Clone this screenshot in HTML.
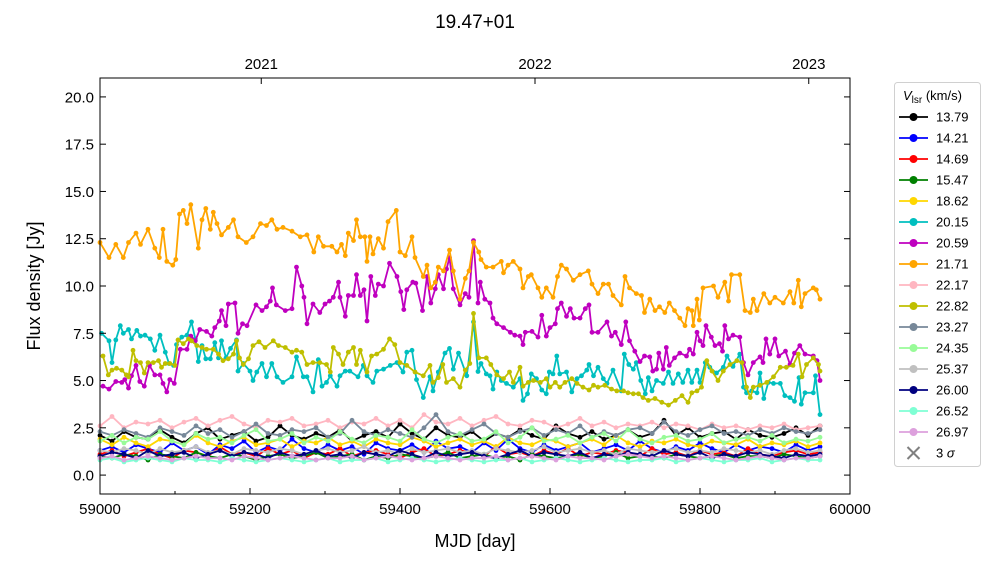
<!DOCTYPE html>
<html><head><meta charset="utf-8"><style>
html,body{margin:0;padding:0;background:#fff;}
svg{display:block;font-family:"Liberation Sans","DejaVu Sans",sans-serif;}
</style></head><body>
<svg id="chart" width="1000" height="562" viewBox="0 0 1000 562" xmlns="http://www.w3.org/2000/svg">
<text x="475" y="28" font-size="19" text-anchor="middle">19.47+01</text>
<g id="series"></g>
<rect x="100" y="78" width="750" height="416" fill="none" stroke="#000" stroke-width="1"/>
<g id="axes"></g>
<text x="475" y="547" font-size="18" text-anchor="middle">MJD [day]</text>
<text transform="translate(40,286) rotate(-90)" font-size="18" text-anchor="middle">Flux density [Jy]</text>
<g id="legend"></g>
</svg>
<script>
const MJD0 = 59000;
const orangeDays=[0,12,21,31,38,48,54,64,73,79,84,89,97,101,106,111,116,121,131,136,141,147,151,156,162,171,178,184,195,204,214,222,229,236,244,256,267,276,285,291,298,309,316,322,327,331,338,342,347,353,356,360,364,371,378,384,395,400,407,416,420,431,436,441,447,451,458,466,471,480,487,492,498,505,508,515,524,535,538,544,551,560,564,571,575,584,589,595,604,610,615,622,631,640,651,656,664,671,678,684,695,700,706,715,722,726,733,740,746,753,759,766,773,780,784,789,791,796,799,804,818,824,833,838,842,853,860,867,871,876,885,893,900,911,920,925,931,935,940,951,955,960];
const orangeFlux=[12.3,11.5,12.2,11.5,12.3,12.8,12.2,13.0,12.0,11.5,13.0,11.3,11.1,11.4,13.8,14.0,13.3,14.3,12.0,13.5,14.1,13.0,13.9,13.3,12.7,13.1,13.5,12.6,12.3,12.6,13.3,13.2,13.5,13.0,13.1,12.9,12.6,12.7,11.8,12.6,12.1,12.1,11.8,12.2,11.6,12.8,12.4,13.5,12.6,12.6,11.3,12.6,11.7,12.5,12.0,13.4,14.0,11.8,11.6,12.6,11.5,10.5,11.1,9.9,10.2,11.0,10.8,11.9,10.8,9.3,10.4,10.8,12.3,11.8,11.4,11.0,11.0,11.3,10.7,11.1,11.3,10.9,9.9,10.5,10.6,9.9,9.4,9.9,9.4,10.5,11.1,10.9,10.3,10.6,10.8,10.1,9.6,10.1,10.1,9.5,9.0,10.5,9.9,9.6,9.5,8.6,9.3,8.7,8.9,8.6,9.1,8.7,8.3,7.9,8.8,8.7,7.9,9.3,8.2,9.9,10.0,9.4,10.2,9.2,10.6,10.6,8.7,8.6,9.3,8.7,9.6,9.1,9.4,9.1,9.7,9.1,10.3,8.9,9.6,9.9,9.8,9.3];
const magentaDays=[4,12,21,29,33,38,42,48,53,59,66,73,80,84,89,93,99,107,116,121,127,133,142,149,153,159,162,168,171,180,184,190,196,208,216,222,227,230,235,247,256,262,269,272,276,284,293,300,306,311,318,320,327,331,338,342,347,352,356,361,367,371,378,386,396,401,405,409,417,421,430,436,441,447,451,458,462,466,471,480,487,492,498,504,507,513,520,524,529,538,547,553,560,564,567,576,584,589,595,600,607,610,615,622,627,632,640,647,652,656,664,676,682,687,695,701,706,713,720,726,733,737,742,745,751,755,759,766,773,782,786,791,796,800,804,808,815,820,826,830,833,838,844,853,858,864,871,880,884,888,893,900,905,914,920,926,933,940,951,956,960];
const magentaFlux=[4.7,4.55,4.95,4.9,5.05,4.6,5.25,5.8,4.95,4.7,5.8,5.3,5.3,4.85,4.4,5.05,4.85,6.65,6.65,7.35,7.1,7.7,7.6,7.35,7.8,8.15,8.7,7.9,9.05,9.1,7.5,8.0,7.9,9.0,8.7,8.9,9.2,9.9,9.0,8.7,8.8,11.0,10.0,9.4,8.0,9.05,8.6,9.05,9.2,9.4,10.2,9.4,8.4,9.5,9.5,10.6,9.5,9.8,8.15,10.5,9.5,10.1,10.0,11.2,10.5,9.7,8.75,9.8,10.2,10.15,8.7,10.5,9.1,9.85,10.6,9.85,10.9,11.5,9.85,9.0,9.6,9.4,12.4,9.1,10.2,9.3,9.1,8.3,8.0,7.8,7.55,7.4,7.35,6.9,7.55,7.6,7.3,8.45,7.35,7.8,8.0,8.8,9.1,8.4,8.8,8.3,8.3,8.8,9.0,7.55,7.55,8.1,7.35,7.55,6.9,8.1,7.1,6.55,6.0,6.3,6.25,5.5,5.6,6.45,5.6,6.75,5.8,6.2,6.45,6.3,6.65,6.4,7.55,7.1,6.85,7.9,7.3,6.85,6.95,6.55,7.9,7.2,7.4,7.3,5.95,5.3,5.95,6.25,5.95,7.2,6.4,7.2,6.3,6.55,5.85,6.45,6.85,6.4,6.3,6.05,5.0];
const cyanDays=[2,12,16,21,27,31,38,42,49,54,60,67,73,80,87,92,98,102,109,116,122,127,131,136,141,147,153,158,162,168,174,182,184,191,200,204,209,216,222,229,236,244,256,262,271,276,284,291,296,302,307,316,320,327,333,344,351,356,364,369,378,387,396,404,409,416,422,431,440,444,451,460,466,471,478,489,498,504,508,515,520,524,529,535,542,551,560,564,570,575,582,589,595,599,604,609,613,622,629,636,642,649,652,658,664,671,676,684,695,699,705,711,715,721,727,731,736,742,751,758,764,771,777,784,789,796,800,807,813,822,831,836,844,853,858,862,869,876,880,885,891,898,907,913,920,926,932,935,940,951,954,960];
const cyanFlux=[7.5,7.1,5.95,7.15,7.9,7.5,7.7,7.2,7.65,7.35,7.4,7.2,6.6,7.4,6.5,5.9,5.8,6.9,7.3,7.4,8.1,7.2,6.0,6.85,6.15,6.15,7.0,6.2,7.1,6.2,6.7,7.15,5.5,5.9,5.5,5.0,5.45,5.9,5.2,5.9,5.2,4.9,5.2,6.25,5.2,5.2,4.4,6.1,4.7,4.9,5.25,4.7,5.25,5.5,5.5,5.2,5.8,5.25,4.9,5.5,5.6,5.8,5.95,5.45,6.5,6.6,5.05,4.1,5.2,4.45,5.45,6.45,6.7,5.6,6.45,5.25,8.1,5.48,5.9,5.35,5.25,4.55,5.45,5.0,4.85,4.65,5.1,3.95,4.3,5.35,5.1,4.5,4.3,5.45,5.35,6.3,5.35,5.45,4.4,5.1,5.25,5.55,5.85,5.25,5.7,5.1,4.85,5.55,4.45,6.4,5.85,5.6,5.95,5.0,4.3,5.15,4.45,5.0,4.85,5.45,4.85,5.35,4.9,5.55,4.9,5.55,4.9,5.95,5.7,5.4,5.7,6.3,5.75,6.4,4.65,4.35,4.45,4.35,5.4,4.05,4.9,4.85,4.85,4.2,4.1,3.9,5.15,3.75,4.35,4.35,5.25,3.2];
const oliveDays=[4,11,16,22,29,35,38,44,48,54,59,64,71,78,82,87,93,100,104,111,118,122,129,136,142,151,158,164,171,178,182,186,191,198,204,212,220,231,238,247,256,262,269,276,284,293,302,307,311,318,324,331,338,342,347,356,362,369,378,386,393,400,409,420,431,440,444,451,457,462,471,480,487,493,498,505,515,521,529,538,546,551,560,564,571,578,587,595,600,607,613,620,629,636,644,652,658,664,673,682,689,698,704,711,718,724,731,740,749,758,767,776,784,789,796,802,809,816,824,831,840,849,856,862,867,871,880,889,898,907,915,924,931,936,942,951,958,960];
const oliveFlux=[6.3,5.3,5.55,5.65,5.55,5.3,5.2,6.6,6.05,5.95,5.4,5.95,5.95,6.05,5.7,5.9,5.9,5.8,7.15,6.95,7.2,7.1,6.85,6.75,6.65,6.65,6.4,6.05,6.15,6.4,7.1,6.2,5.85,6.15,6.85,7.05,6.75,7.1,6.85,6.75,6.5,6.6,6.5,5.85,5.95,5.95,5.85,5.45,6.75,6.4,5.85,6.5,6.75,5.85,6.6,5.45,6.3,6.4,6.65,7.2,6.9,5.95,5.8,5.45,5.25,5.8,4.9,5.15,5.85,4.9,5.1,4.65,5.55,5.9,8.55,6.2,6.2,5.85,5.3,5.1,5.45,4.9,5.7,4.7,4.9,5.0,4.9,5.1,4.65,4.9,4.65,4.9,5.1,4.85,4.65,4.5,4.75,4.65,4.75,4.55,4.45,4.45,4.35,4.3,4.3,4.1,3.95,4.05,3.85,3.7,3.95,4.2,3.85,4.35,4.45,4.65,6.05,5.5,5.0,5.5,5.85,6.05,5.95,4.65,4.1,4.65,4.75,4.9,5.2,5.7,5.7,5.8,6.4,5.2,5.85,6.2,5.85,5.5];
const lowDays=[0,16,32,48,64,80,96,112,128,144,160,176,192,208,224,240,256,272,288,304,320,336,352,368,384,400,416,432,448,464,480,496,512,528,544,560,576,592,608,624,640,656,672,688,704,720,736,752,768,784,800,816,832,848,864,880,896,912,928,944,960];
const flux1379=[2.1,1.8,2.3,2.0,1.9,2.4,2.0,1.7,2.2,2.5,1.9,2.1,2.3,1.8,2.0,2.6,2.1,1.9,2.2,2.0,2.4,1.8,2.1,2.3,2.0,2.7,2.2,1.9,2.5,2.1,2.0,2.3,1.8,2.2,2.0,2.4,2.1,1.9,2.6,2.2,2.0,2.3,1.9,2.1,2.4,2.0,2.2,2.9,2.1,2.5,2.0,2.2,2.3,1.9,2.4,2.1,2.0,2.2,2.5,2.1,2.6];
const flux1421=[1.3,1.5,1.2,1.6,1.4,1.2,1.7,1.3,1.5,1.1,1.6,1.4,1.8,1.2,1.5,1.3,1.9,1.4,1.2,1.6,1.3,1.5,1.1,1.7,1.4,1.3,1.6,1.2,1.8,1.4,1.5,1.2,1.7,1.3,1.9,1.4,1.2,1.6,1.3,1.5,1.7,1.2,1.4,1.6,1.3,1.8,1.4,1.2,1.5,1.3,1.7,1.4,1.2,1.6,1.3,1.5,1.4,1.2,1.6,1.3,1.5];
const flux1469=[1.1,1.3,1.0,1.2,1.4,1.1,0.9,1.3,1.2,1.0,1.5,1.1,1.2,1.0,1.4,1.1,1.3,0.9,1.2,1.1,1.4,1.0,1.2,1.3,1.1,0.9,1.2,1.4,1.0,1.1,1.3,1.2,1.0,1.5,1.1,1.2,1.0,1.3,1.1,1.4,1.0,1.2,1.1,1.3,1.2,1.0,1.4,1.1,1.2,1.0,1.3,1.1,1.2,1.0,1.4,1.1,1.0,1.2,1.3,1.1,1.2];
const flux1547=[1.0,0.9,1.1,1.0,0.8,1.1,1.0,0.9,1.2,1.0,0.9,1.1,1.0,0.8,1.0,1.1,0.9,1.0,1.2,0.9,1.0,1.1,0.8,1.0,0.9,1.1,1.0,0.9,1.0,1.2,0.9,1.0,1.1,0.9,1.0,0.8,1.1,1.0,0.9,1.0,1.1,0.9,1.0,1.2,0.9,1.0,1.0,0.9,1.1,1.0,0.9,1.0,1.1,0.9,1.0,1.0,0.9,1.1,1.0,0.9,1.0];
const flux1862=[1.9,1.6,2.0,1.7,1.5,1.9,1.8,1.6,2.1,1.7,1.5,1.8,2.0,1.6,1.7,1.9,1.5,1.8,1.7,2.0,1.6,1.8,1.5,1.9,1.7,1.6,2.0,1.8,1.5,1.7,1.9,1.6,1.8,1.5,2.0,1.7,1.6,1.9,1.8,1.5,1.7,1.9,1.6,2.1,1.7,1.5,1.8,1.7,1.9,1.6,1.5,1.8,1.7,1.6,1.9,1.5,1.7,1.6,1.8,1.5,1.7];
const flux2217=[2.6,3.1,2.5,2.8,2.7,2.9,2.5,2.8,3.0,2.6,2.9,3.1,2.7,2.5,2.9,2.8,3.0,2.6,2.7,2.9,2.5,2.8,2.7,3.0,2.6,2.9,2.5,3.2,2.8,2.7,3.0,2.6,2.9,3.1,2.7,2.6,2.9,2.8,2.5,2.7,3.0,2.6,2.8,2.5,2.7,2.6,2.8,2.5,2.7,2.6,2.4,2.7,2.5,2.6,2.4,2.6,2.5,2.7,2.4,2.5,2.6];
const flux2327=[2.3,2.1,2.4,2.2,2.0,2.5,2.3,2.1,2.6,2.2,2.4,2.0,2.3,2.7,2.2,2.1,2.4,2.3,2.5,2.0,2.2,2.9,2.3,2.1,2.4,2.2,2.0,2.5,3.2,2.3,2.1,2.4,2.7,2.2,2.0,2.3,2.5,2.1,2.4,2.2,2.6,2.0,2.3,2.1,2.4,2.5,2.2,2.8,2.3,2.1,2.4,2.6,2.2,2.3,2.1,2.4,2.2,2.5,2.3,2.2,2.4];
const flux2435=[1.8,2.1,1.7,2.0,1.9,2.3,1.8,1.6,2.2,1.9,2.0,1.7,2.1,2.4,1.8,1.9,2.2,1.7,2.0,1.8,2.3,1.9,1.7,2.1,2.0,1.8,2.4,1.9,1.7,2.0,2.2,1.8,1.9,2.3,1.7,2.0,2.5,1.8,1.9,2.1,1.7,2.0,2.2,1.8,2.4,1.9,1.7,2.0,2.1,1.8,1.9,2.2,1.7,1.9,2.0,1.8,2.1,1.7,1.9,1.8,2.0];
const flux2537=[1.3,1.2,1.4,1.3,1.1,1.4,1.2,1.3,1.5,1.2,1.3,1.1,1.4,1.3,1.2,1.4,1.3,1.1,1.3,1.4,1.2,1.3,1.5,1.2,1.3,1.1,1.4,1.2,1.3,1.4,1.2,1.3,1.1,1.4,1.3,1.2,1.3,1.5,1.2,1.3,1.4,1.2,1.3,1.1,1.4,1.3,1.2,1.3,1.4,1.2,1.3,1.2,1.4,1.3,1.2,1.3,1.1,1.3,1.4,1.2,1.3];
const flux2600=[1.0,1.2,1.1,0.9,1.3,1.0,1.1,1.2,0.9,1.1,1.3,1.0,1.2,1.1,0.9,1.2,1.0,1.1,1.3,1.0,1.1,0.9,1.2,1.1,1.0,1.3,1.1,0.9,1.2,1.0,1.1,1.2,1.0,0.9,1.1,1.3,1.0,1.2,1.1,1.0,1.2,0.9,1.1,1.0,1.2,1.1,1.0,1.3,1.1,1.0,1.2,0.9,1.1,1.0,1.2,1.1,1.0,0.9,1.1,1.0,1.1];
const flux2652=[0.8,0.9,0.7,0.8,0.9,0.8,0.7,0.9,0.8,0.8,0.7,0.9,0.8,0.7,0.8,0.9,0.8,0.7,0.8,0.9,0.7,0.8,0.8,0.9,0.7,0.8,0.9,0.8,0.7,0.8,0.9,0.8,0.7,0.8,0.8,0.9,0.7,0.8,0.9,0.8,0.7,0.8,0.9,0.8,0.7,0.8,0.8,0.9,0.7,0.8,0.9,0.8,0.7,0.8,0.8,0.9,0.7,0.8,0.9,0.8,0.8];
const flux2697=[0.9,1.0,0.8,0.9,1.0,0.9,0.8,0.9,1.0,0.9,0.9,0.8,1.0,0.9,0.8,0.9,1.0,0.9,0.8,0.9,0.9,1.0,0.8,0.9,1.0,0.9,0.8,0.9,1.0,0.9,0.8,0.9,0.9,1.0,0.8,0.9,1.0,0.9,0.8,1.0,0.9,0.9,0.8,1.0,1.1,1.0,0.9,1.0,0.9,0.8,0.9,1.0,0.9,0.8,0.9,1.0,0.9,0.8,0.9,0.9,1.0];
const xTicks=[59000,59200,59400,59600,59800,60000];
const xMinor=[59100,59300,59500,59700,59900];
const yTicks=[0,2.5,5,7.5,10,12.5,15,17.5,20];
const yearLabels=["2021","2022","2023"];
const yearMjd=[59215,59580,59945];

const X0=100,X1=850,Y0=494,Y1=78;
const XMIN=59000,XMAX=60000,YMIN=-1,YMAX=21;
function sx(m){return X0+(m-XMIN)/(XMAX-XMIN)*(X1-X0);}
function sy(v){return Y0-(v-YMIN)/(YMAX-YMIN)*(Y0-Y1);}
const NS="http://www.w3.org/2000/svg";
function mk(tag,attrs,parent){const e=document.createElementNS(NS,tag);for(const k in attrs)e.setAttribute(k,attrs[k]);parent.appendChild(e);return e;}

const series=[
 {label:"13.79",color:"#000000",days:lowDays,vals:flux1379},
 {label:"14.21",color:"#0000ff",days:lowDays,vals:flux1421},
 {label:"14.69",color:"#ff0000",days:lowDays,vals:flux1469},
 {label:"15.47",color:"#008000",days:lowDays,vals:flux1547},
 {label:"18.62",color:"#ffd700",days:lowDays,vals:flux1862},
 {label:"20.15",color:"#00bfbf",days:cyanDays,vals:cyanFlux},
 {label:"20.59",color:"#bf00bf",days:magentaDays,vals:magentaFlux},
 {label:"21.71",color:"#ffa500",days:orangeDays,vals:orangeFlux},
 {label:"22.17",color:"#ffb6c1",days:lowDays,vals:flux2217},
 {label:"22.82",color:"#bfbf00",days:oliveDays,vals:oliveFlux},
 {label:"23.27",color:"#778899",days:lowDays,vals:flux2327},
 {label:"24.35",color:"#98fb98",days:lowDays,vals:flux2435},
 {label:"25.37",color:"#c0c0c0",days:lowDays,vals:flux2537},
 {label:"26.00",color:"#000080",days:lowDays,vals:flux2600},
 {label:"26.52",color:"#7fffd4",days:lowDays,vals:flux2652},
 {label:"26.97",color:"#dda0dd",days:lowDays,vals:flux2697}
];
const sg=document.getElementById('series');
series.forEach((s)=>{
  const g=mk('g',{},sg);
  
  
  const n=Math.min(s.days.length,s.vals.length);
  let pts=[];
  for(let i=0;i<n;i++)pts.push(sx(MJD0+s.days[i]).toFixed(1)+','+sy(s.vals[i]).toFixed(1));
  const pl=mk('polyline',{points:pts.join(' '),fill:'none',stroke:s.color,'stroke-width':1.8,'stroke-linejoin':'round'},g);
  
  
  for(let i=0;i<n;i++){
    const c=mk('circle',{cx:sx(MJD0+s.days[i]).toFixed(1),cy:sy(s.vals[i]).toFixed(1),r:2.4,fill:s.color},g);
    
    
  }
});

const ag=document.getElementById('axes');
xTicks.forEach(t=>{
  const x=sx(t);
  mk('line',{x1:x,y1:Y0,x2:x,y2:Y0-6,stroke:'#000'},ag);
  const tx=mk('text',{x:x,y:Y0+20,'font-size':15,'text-anchor':'middle'},ag);
  tx.textContent=String(t);
  
  
});
xMinor.forEach(t=>{const x=sx(t);mk('line',{x1:x,y1:Y0,x2:x,y2:Y0-3,stroke:'#000'},ag);});
yTicks.forEach(t=>{
  const y=sy(t);
  mk('line',{x1:X0,y1:y,x2:X0+6,y2:y,stroke:'#000'},ag);
  mk('line',{x1:X1,y1:y,x2:X1-6,y2:y,stroke:'#000'},ag);
  const tx=mk('text',{x:X0-6,y:y+5.5,'font-size':15,'text-anchor':'end'},ag);
  tx.textContent=t.toFixed(1);
  
  
});
yearMjd.forEach((m,i)=>{
  const x=sx(m);
  mk('line',{x1:x,y1:Y1,x2:x,y2:Y1+6,stroke:'#000'},ag);
  const tx=mk('text',{x:x,y:Y1-9,'font-size':15,'text-anchor':'middle'},ag);
  tx.textContent=yearLabels[i];
  
  
});

const lg=document.getElementById('legend');
const box=mk('rect',{x:894.5,y:82.5,width:86,height:384,rx:3,fill:'#fff',stroke:'#d0d0d0'},lg);


const lt=mk('text',{x:903,y:100,'font-size':13},lg);
lt.innerHTML='<tspan font-style="italic">V</tspan><tspan font-size="10" dy="3">lsr</tspan><tspan dy="-3"> (km/s)</tspan>';


series.forEach((s,i)=>{
  const y=117+i*21;
  const g=mk('g',{},lg);
  
  
  mk('line',{x1:899,y1:y,x2:928,y2:y,stroke:s.color,'stroke-width':1.8},g);
  mk('circle',{cx:913.5,cy:y,r:4,fill:s.color},g);
  const t=mk('text',{x:936,y:y+4.5,'font-size':13},g);
  t.textContent=s.label;
});
const sgm=mk('g',{},lg);


mk('path',{d:'M907.5,447 L919.5,459 M919.5,447 L907.5,459',stroke:'#808080','stroke-width':2},sgm);
const st=mk('text',{x:936,y:457.5,'font-size':13},sgm);
st.innerHTML='3 <tspan font-style="italic">σ</tspan>';
</script>
</body></html>
